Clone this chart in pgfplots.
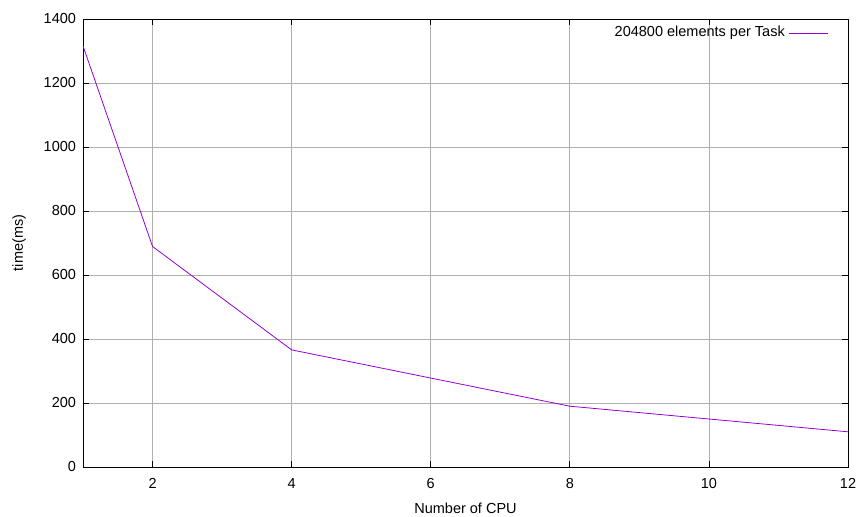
\documentclass[border=0pt]{standalone}
\usepackage{pgfplots}
\pgfplotsset{compat=1.18}
\usepackage{fontspec}
\setmainfont{Liberation Sans}
\definecolor{gpviolet}{HTML}{9400D3}
\definecolor{gpgrid}{HTML}{B0B0B0}
\newcommand{\gpfont}{\fontsize{14.5bp}{17bp}\selectfont}
\begin{document}
\gpfont
\begin{tikzpicture}
\begin{axis}[
  scale only axis,
  width=765bp, height=448bp,
  xmin=1, xmax=12, ymin=0, ymax=1400,
  xtick={2,4,...,12},
  ytick={0,200,...,1400},
  /pgf/number format/1000 sep={},
  grid=major,
  major grid style={gpgrid, line width=0.8bp},
  axis line style={black, line width=0.8bp},
  tick style={black, line width=0.8bp},
  major tick length=6bp,
  tick align=inside,
  /pgf/number format/assume math mode=true,
  ticklabel style={font=\gpfont},
  label style={font=\gpfont},
  xticklabel style={yshift=-6bp},
  yticklabel style={xshift=-2bp},
  xlabel={Number of CPU},
  ylabel={time(ms)},
  xlabel style={at={(axis description cs:0.5,0)}, anchor=center, yshift=-41bp},
  ylabel style={at={(axis description cs:0,0.5)}, anchor=center, yshift=64bp},
]
\addplot[gpviolet, line width=0.8bp] coordinates {
  (1,1316) (2,689) (4,366) (8,190) (12,110)
};
% key of the one series, in the top right corner
\node[anchor=east, inner sep=0pt, font=\gpfont] at (rel axis cs:0.9176,0.9688) {204800 elements per Task};
\draw[gpviolet, line width=0.8bp] (rel axis cs:0.9229,0.9688) -- (rel axis cs:0.9739,0.9688);
\end{axis}
\pgfresetboundingbox
\path (current axis.south west) ++(-83bp,-50bp) coordinate (bl);
\path (current axis.north east) ++(10bp,19bp) coordinate (tr);
\path (bl) rectangle (tr);
\end{tikzpicture}
\end{document}
